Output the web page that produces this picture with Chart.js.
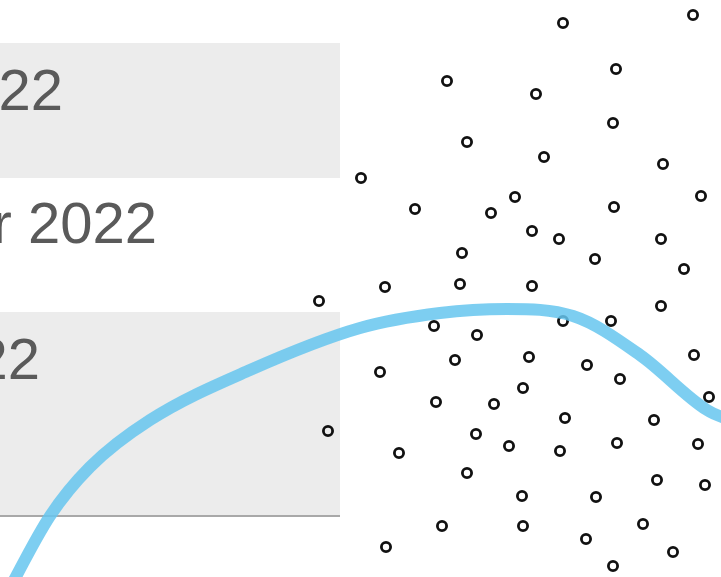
<!DOCTYPE html>
<html>
<head>
<meta charset="utf-8">
<script src="https://cdn.jsdelivr.net/npm/chart.js@4/dist/chart.umd.min.js"></script>
<style>
  html, body { margin: 0; padding: 0; background: #ffffff; }
  #wrap { width: 721px; height: 577px; position: relative; }
</style>
</head>
<body>
<div id="wrap"><canvas id="chart"></canvas></div>
<script>
// Row labels of the table on the left (only their right ends are in view)
const rowLabels = ['Jan 2022', 'Mar 2022', 'May 2022'];
const rowLabelEnd = [63, 157, 40];
const rowLabelBaseline = [110, 243, 379];

// Shaded rows: top / bottom, and the rule under the last row
const bandTop = [43, 312];
const bandBottom = [178, 516];
const bandRight = 340;
const ruleY = 516;

// Smooth trend curve
const curveX = [5, 50, 90, 150, 250, 360, 440, 507, 573, 640, 707, 735];
const curveY = [597, 516, 467, 420, 370, 328, 313, 309, 316, 355, 410, 422];

// Scattered points
const dotX = [563, 693, 447, 616, 536, 613, 467, 544, 663, 361, 415, 491, 515, 614, 701,
  532, 559, 661, 462, 595, 684, 319, 385, 460, 532, 661, 434, 563, 611, 477,
  455, 529, 380, 587, 620, 694, 523, 709, 436, 494, 328, 565, 654, 476, 399,
  509, 560, 617, 698, 467, 657, 705, 522, 596, 442, 523, 643, 386, 586, 673, 613];
const dotY = [23, 15, 81, 69, 94, 123, 142, 157, 164, 178, 209, 213, 197, 207, 196,
  231, 239, 239, 253, 259, 269, 301, 287, 284, 286, 306, 326, 321, 321, 335,
  360, 357, 372, 365, 379, 355, 388, 397, 402, 404, 431, 418, 420, 434, 453,
  446, 451, 443, 444, 473, 480, 485, 496, 497, 526, 526, 524, 547, 539, 552, 566];

const curveData = curveX.map((x, i) => ({ x: x, y: curveY[i] }));
const dotData = dotX.map((x, i) => ({ x: x, y: dotY[i] }));

// bands, rule and row labels go under the datasets
const tablePlugin = {
    id: 'tableRows',
    beforeDatasetsDraw(chart) {
        const ctx = chart.ctx;
        const xs = chart.scales.x, ys = chart.scales.y;
        ctx.save();
        ctx.fillStyle = '#ececec';
        bandTop.forEach((t, i) => {
            const y0 = ys.getPixelForValue(t), y1 = ys.getPixelForValue(bandBottom[i]);
            const x0 = xs.getPixelForValue(0), x1 = xs.getPixelForValue(bandRight);
            ctx.fillRect(x0, y0, x1 - x0, y1 - y0);
        });
        ctx.strokeStyle = '#a8a8a8';
        ctx.lineWidth = 2;
        ctx.beginPath();
        ctx.moveTo(xs.getPixelForValue(0), ys.getPixelForValue(ruleY));
        ctx.lineTo(xs.getPixelForValue(bandRight), ys.getPixelForValue(ruleY));
        ctx.stroke();
        ctx.fillStyle = '#5a5a5a';
        ctx.font = '58px "Liberation Sans", Arial, sans-serif';
        ctx.textAlign = 'right';
        ctx.textBaseline = 'alphabetic';
        rowLabels.forEach((lab, i) => {
            ctx.fillText(lab, xs.getPixelForValue(rowLabelEnd[i]), ys.getPixelForValue(rowLabelBaseline[i]));
        });
        ctx.restore();
    }
};

window.onload = function() {
    const ctx = document.getElementById('chart').getContext('2d');
    new Chart(ctx, {
        type: 'scatter',
        data: {
            datasets: [{
                type: 'line',
                data: curveData,
                borderColor: 'rgba(102, 197, 239, 0.85)',
                borderWidth: 12,
                borderCapStyle: 'round',
                cubicInterpolationMode: 'monotone',
                pointRadius: 0,
                fill: false,
                clip: false
            }, {
                data: dotData,
                pointRadius: 4.6,
                pointBorderWidth: 2.8,
                borderColor: '#111111',
                backgroundColor: 'rgba(255,255,255,0)',
                clip: false
            }]
        },
        options: {
            responsive: true,
            maintainAspectRatio: false,
            animation: false,
            layout: { padding: 0, autoPadding: false },
            plugins: { legend: { display: false }, tooltip: { enabled: false } },
            scales: {
                x: { type: 'linear', min: 0, max: 721, display: false },
                y: { type: 'linear', min: 0, max: 577, reverse: true, display: false }
            }
        },
        plugins: [tablePlugin]
    });
};
</script>
</body>
</html>
